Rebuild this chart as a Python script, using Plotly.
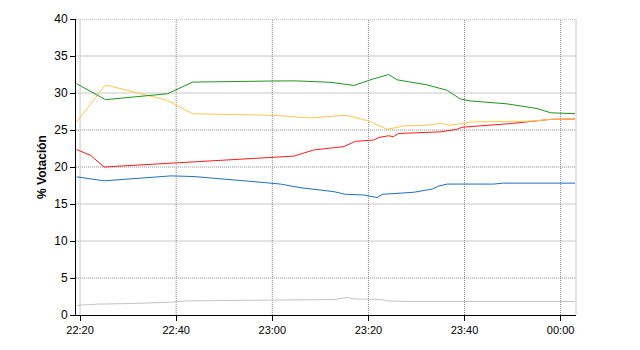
import plotly.graph_objects as go
import pandas as pd

# minutes after 22:20 and % vote for each series
green_t = [-0.7, 2.2, 5.3, 18.2, 23.4, 40, 45, 52, 57, 61, 64.2, 66, 72.2, 76.4, 79.1, 81.2, 88.9, 95.1, 97.9, 103]
green_v = [31.24, 30.22, 29.1, 29.9, 31.47, 31.62, 31.64, 31.45, 31.02, 31.9, 32.49, 31.78, 31.1, 30.36, 29.2, 28.93, 28.53, 27.9, 27.33, 27.2]

yellow_t = [-0.7, 5.3, 18.2, 23.4, 40.3, 48, 54.9, 56, 60.1, 63.9, 67.4, 72.2, 75, 77, 79.8, 81.2, 94.3, 97.9, 103]
yellow_v = [26.09, 31.1, 29.0, 27.2, 26.98, 26.62, 26.98, 26.9, 26.2, 25.1, 25.55, 25.65, 25.87, 25.65, 25.9, 26.09, 26.2, 26.44, 26.49]

red_t = [-0.7, 2.2, 5.0, 44.5, 48.6, 54.9, 57.3, 61.1, 62.2, 64.2, 65.2, 66.3, 75, 78.5, 79.5, 90.2, 97.9, 103]
red_v = [22.36, 21.56, 20.0, 21.47, 22.3, 22.76, 23.47, 23.64, 24.0, 24.22, 24.09, 24.53, 24.75, 25.1, 25.37, 25.9, 26.44, 26.49]

blue_t = [-0.7, 5.0, 18.9, 23.7, 38.3, 41.7, 45.9, 52.8, 55.2, 59, 61.8, 62.9, 69.4, 73.3, 74.6, 76.4, 86, 88.1, 103]
blue_v = [18.67, 18.13, 18.8, 18.71, 17.9, 17.69, 17.2, 16.67, 16.31, 16.22, 15.87, 16.31, 16.58, 17.02, 17.42, 17.69, 17.69, 17.82, 17.82]

gray_t = [-0.7, 3.6, 11.2, 18.9, 22.3, 37.6, 52.8, 55.6, 57, 62.5, 63.9, 69.4, 103]
gray_v = [1.29, 1.47, 1.56, 1.73, 1.91, 2.0, 2.09, 2.36, 2.18, 2.09, 1.91, 1.82, 1.82]

tick_labels = ["22:20", "22:40", "23:00", "23:20", "23:40", "00:00"]
y_ticks = [0, 5, 10, 15, 20, 25, 30, 35, 40]
grid_solid_y = [10, 15, 30, 35]
grid_dot_y = [5, 20, 25, 40]

base = pd.Timestamp("2024-01-01 22:20:00")

def to_time(mins):
    return [base + pd.Timedelta(minutes=m) for m in mins]

tick_vals = [base + pd.Timedelta(minutes=20 * i) for i in range(len(tick_labels))]

fig = go.Figure()
series = [
    (gray_t, gray_v, "#c4c4c4"),
    (blue_t, blue_v, "#1f6fc4"),
    (red_t, red_v, "#ff1a1a"),
    (yellow_t, yellow_v, "#ffc84a"),
    (green_t, green_v, "#1e951e"),
]
for t, v, c in series:
    fig.add_trace(go.Scatter(x=to_time(t), y=v, mode="lines",
                             line=dict(color=c, width=1), showlegend=False,
                             hoverinfo="skip"))

x0 = base + pd.Timedelta(minutes=-0.85)
x1 = base + pd.Timedelta(minutes=103.2)

# gridlines
for yv in grid_solid_y:
    fig.add_shape(type="line", xref="paper", yref="y", x0=0, x1=1, y0=yv, y1=yv,
                  line=dict(color="#c8c8c8", width=1), layer="below")
for yv in grid_dot_y:
    fig.add_shape(type="line", xref="paper", yref="y", x0=0, x1=1, y0=yv, y1=yv,
                  line=dict(color="#8c8c8c", width=1, dash="1px,1px"), layer="below")
for i, tv in enumerate(tick_vals):
    if i == 0:
        ln = dict(color="#c8c8c8", width=1)
    else:
        ln = dict(color="#8c8c8c", width=1, dash="1px,1px")
    fig.add_shape(type="line", xref="x", yref="paper", x0=tv, x1=tv, y0=0, y1=1,
                  line=ln, layer="below")
fig.add_shape(type="line", xref="paper", yref="paper", x0=1, x1=1, y0=0, y1=1,
              line=dict(color="#c8c8c8", width=1), layer="below")

fig.update_layout(
    width=640, height=350,
    margin=dict(l=76, r=64, t=15, b=35),
    plot_bgcolor="white", paper_bgcolor="white",
    font=dict(family="Liberation Sans, Arial, sans-serif", size=11, color="black"),
    xaxis=dict(range=[x0, x1], tickvals=tick_vals, ticktext=tick_labels,
               showgrid=False, zeroline=False, showline=True, linecolor="black",
               linewidth=1, ticks="outside", ticklen=5, tickcolor="black",
               tickfont=dict(size=11)),
    yaxis=dict(range=[0, 40], tickvals=y_ticks, showgrid=False, zeroline=False,
               showline=True, linecolor="black", linewidth=1, ticks="outside",
               ticklen=5, tickcolor="black", tickfont=dict(size=12),
               title=dict(text="<b>% Votación</b>", font=dict(size=12), standoff=5)),
)

fig.write_html("out.html")
